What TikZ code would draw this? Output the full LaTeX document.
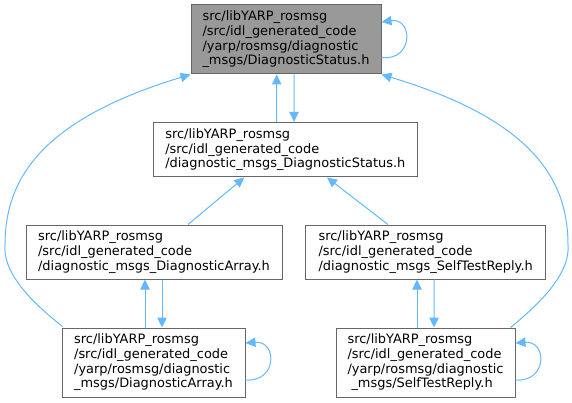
\documentclass[tikz,border=0pt]{standalone}
\usepackage{fontspec}
\setmainfont{DejaVu Sans}
\usetikzlibrary{arrows.meta,calc}
\definecolor{edgeblue}{HTML}{63B8FF}
\definecolor{boxborder}{HTML}{666666}
\definecolor{boxfill}{HTML}{999999}
\begin{document}
\begin{tikzpicture}[x=0.75pt,y=-0.75pt,
  filebox/.style={draw=boxborder,line width=0.75pt,fill=white,rectangle,inner sep=0pt,
    align=left,font=\fontsize{9.7}{11}\selectfont},
  link/.style={draw=edgeblue,line width=0.75pt,-{Triangle[length=7.5pt,width=7pt]}}]
\useasboundingbox (0,0) rectangle (572,403);

\node[filebox,fill=boxfill,minimum width=142.5pt,minimum height=51.75pt] (A) at (286,39.5)
  {src/libYARP\_rosmsg\\/src/idl\_generated\_code\\/yarp/rosmsg/diagnostic\\\_msgs/DiagnosticStatus.h};
\node[filebox,minimum width=197.6pt,minimum height=40.9pt] (B) at (285.3,149.7)
  {src/libYARP\_rosmsg\\/src/idl\_generated\_code\\/diagnostic\_msgs\_DiagnosticStatus.h};
\node[filebox,minimum width=192pt,minimum height=40.5pt] (C) at (154,252)
  {src/libYARP\_rosmsg\\/src/idl\_generated\_code\\/diagnostic\_msgs\_DiagnosticArray.h};
\node[filebox,minimum width=180pt,minimum height=40.5pt] (D) at (425.7,252)
  {src/libYARP\_rosmsg\\/src/idl\_generated\_code\\/diagnostic\_msgs\_SelfTestReply.h};
\node[filebox,minimum width=137.25pt,minimum height=51.75pt] (E) at (153.5,362.5)
  {src/libYARP\_rosmsg\\/src/idl\_generated\_code\\/yarp/rosmsg/diagnostic\\\_msgs/DiagnosticArray.h};
\node[filebox,minimum width=134.25pt,minimum height=51.75pt] (F) at (425.5,362.5)
  {src/libYARP\_rosmsg\\/src/idl\_generated\_code\\/yarp/rosmsg/diagnostic\\\hspace*{3pt}\_msgs/SelfTestReply.h};

% self loops
\draw[link] ($(A.east)+(0,18)$) .. controls ($(A.east)+(32,22)$) and ($(A.east)+(32,-22)$) .. ($(A.east)+(0,-17.5)$);
\draw[link] ($(E.east)+(0,17.5)$) .. controls ($(E.east)+(32,20)$) and ($(E.east)+(32,-22)$) .. ($(E.east)+(0,-19.5)$);
\draw[link] ($(F.east)+(0,17.5)$) .. controls ($(F.east)+(32,20)$) and ($(F.east)+(32,-22)$) .. ($(F.east)+(0,-19.5)$);

% A <-> B
\draw[link] ($(B.north)+(-8.6,0)$) -- ($(A.south)+(-9.3,0)$);
\draw[link] ($(A.south)+(8,0)$) -- ($(B.north)+(8.7,0)$);

% C, D -> B
\draw[link] ($(C.north)+(34,0)$) -- ($(B.south)+(-41,0)$);
\draw[link] ($(D.north)+(-37.7,0)$) -- ($(B.south)+(41.7,0)$);

% C <-> E
\draw[link] ($(E.north)+(-8.5,0)$) -- ($(C.south)+(-9,0)$);
\draw[link] ($(C.south)+(8,0)$) -- ($(E.north)+(8.5,0)$);

% D <-> F
\draw[link] ($(F.north)+(-8.5,0)$) -- ($(D.south)+(-8.7,0)$);
\draw[link] ($(D.south)+(8.3,0)$) -- ($(F.north)+(8.5,0)$);

% long curves to A
\draw[link] ($(E.north west)+(1,-1)$) .. controls (25,297) and (3,270) .. (5,245)
  .. controls (5,180) and (40,120) .. (A.south west);
\draw[link] ($(F.north east)+(-5,0)$) .. controls (548,297) and (570,270) .. (568,245)
  .. controls (568,180) and (533,120) .. (A.south east);
\end{tikzpicture}
\end{document}
